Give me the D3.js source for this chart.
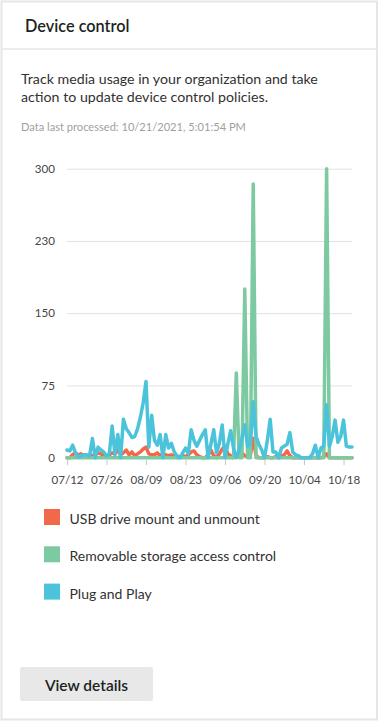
<!DOCTYPE html>
<html><head><meta charset="utf-8">
<script src="https://cdn.jsdelivr.net/npm/d3@7"></script>
<style>
html,body{margin:0;padding:0;background:#fff;}
svg{display:block;font-family:"Segoe UI",Lato,"Noto Sans",sans-serif;}
</style></head>
<body>
<svg id="c" width="380" height="723"></svg>
<script>
// ---- data ----
const startDate = "2021-07-12";
const seriesNames = ["USB drive mount and unmount","Removable storage access control","Plug and Play"];
const seriesColors = ["#f1684a","#7dc9a2","#4bc3da"];
const usbValues = [0,0,3,5,3,4,2,1,3,2,3,5,4,2,1,3,5,4,8,3,5,8,3,6,2,4,6,9,11,4,3,3,5,2,4,3,2,3,1,0,1,2,1,3,6,7,3,1,0,0,3,8,2,0,4,9,12,4,2,0,1,4,5,2,1,3,20,2,0,0,0,1,0,0,1,0,2,3,7,2,0,0,0,0,0,0,0,0,0,0,0,1,4,0,0,0,0,0,0,0,0,0];
const removableValues = [0,0,0,0,0,0,0,0,0,0,0,0,0,0,0,0,0,0,0,0,0,0,0,0,0,0,0,0,0,0,0,0,0,0,0,0,0,0,0,0,0,0,0,0,0,0,0,0,0,0,0,0,0,0,0,0,0,0,0,0,88,0,0,175,0,0,284,0,0,0,0,0,0,0,0,0,0,0,0,0,0,0,0,0,0,0,0,0,0,0,0,0,300,0,0,0,0,0,0,0,0,0];
const pnpValues = [8,7,13,5,1,2,3,3,2,20,0,11,8,6,2,4,33,3,24,0,40,30,26,21,22,30,42,57,79,11,44,18,13,24,0,24,10,15,6,2,0,5,10,4,29,18,12,18,24,29,0,14,29,5,15,34,0,14,28,10,0,8,20,34,12,14,58,22,14,8,0,18,40,6,6,0,10,12,14,26,6,3,2,0,0,0,0,4,13,0,10,12,55,12,22,39,16,22,39,12,11,11];
const xTickLabels = ["07/12","07/26","08/09","08/23","09/06","09/20","10/04","10/18"];
const yTickValues = [0,75,150,225,300];
const yTickLabels = ["0","75","150","230","300"];

const svg = d3.select("#c");
const parse = d3.timeParse("%Y-%m-%d");
const d0 = parse(startDate);
const dates = usbValues.map((_, i) => d3.timeDay.offset(d0, i));

// card
svg.append("rect").attr("x",1.5).attr("y",1.5).attr("width",375.5).attr("height",718)
  .attr("fill","#fff").attr("stroke","#e6e6e6").attr("stroke-width",2);
svg.append("line").attr("x1",2).attr("x2",377).attr("y1",49).attr("y2",49)
  .attr("stroke","#ececec").attr("stroke-width",2);

svg.append("text").attr("x",25).attr("y",31.5).attr("font-size",16.3).attr("font-weight",600)
  .attr("fill","#201f1e").text("Device control");
svg.append("text").attr("x",21).attr("y",84).attr("font-size",14.2).attr("fill","#323130")
  .text("Track media usage in your organization and take");
svg.append("text").attr("x",21).attr("y",101.5).attr("font-size",14.2).attr("fill","#323130")
  .text("action to update device control policies.");
svg.append("text").attr("x",21).attr("y",131).attr("font-size",11.1).attr("fill","#a19f9d")
  .text("Data last processed: 10/21/2021, 5:01:54 PM");

// scales
const x = d3.scaleTime().domain([dates[0], dates[dates.length-1]]).range([67, 352]);
const y = d3.scaleLinear().domain([0, 300]).range([457.7, 168.7]);

// y grid + labels
const yAxis = d3.axisLeft(y).tickValues(yTickValues).tickSize(-285)
  .tickFormat((d,i) => yTickLabels[i]).tickPadding(12);
const gy = svg.append("g").attr("transform","translate(67,0)").call(yAxis);
gy.select(".domain").remove();
gy.selectAll(".tick line").attr("stroke","#e1e1e1").attr("stroke-width",1);
gy.selectAll(".tick text").attr("font-size",11.6).attr("fill","#484644")
  .attr("font-family","Segoe UI, Lato, sans-serif");

// x axis
const xTickDates = xTickLabels.map(s => parse("2021-" + s.replace("/","-")));
const xAxis = d3.axisBottom(x).tickValues(xTickDates).tickSize(5).tickPadding(11)
  .tickFormat((d,i) => xTickLabels[i]);
const gx = svg.append("g").attr("transform","translate(0,460)").call(xAxis);
gx.select(".domain").remove();
gx.selectAll(".tick line").attr("stroke","#c8c6c4");
gx.selectAll(".tick text").attr("font-size",11.6).attr("fill","#484644")
  .attr("font-family","Segoe UI, Lato, sans-serif");

// lines
const line = d3.line().x((d,i) => x(dates[i])).y(d => y(d));
const drawOrder = [[usbValues,0],[removableValues,1],[pnpValues,2]];
drawOrder.forEach(([vals, ci]) => {
  svg.append("path").datum(vals).attr("d", line).attr("fill","none")
    .attr("stroke", seriesColors[ci]).attr("stroke-width",3.5)
    .attr("stroke-linejoin","round").attr("stroke-linecap","round");
});

// legend
const lg = svg.append("g").attr("transform","translate(44,509)");
seriesNames.forEach((n,i) => {
  const row = lg.append("g").attr("transform",`translate(0,${i*37.3})`);
  row.append("rect").attr("width",16).attr("height",16).attr("fill",seriesColors[i]);
  row.append("text").attr("x",25.5).attr("y",15).attr("font-size",14).attr("fill","#323130").text(n);
});

// button
svg.append("rect").attr("x",20).attr("y",667).attr("width",133).attr("height",34).attr("rx",2)
  .attr("fill","#e8e8e8");
svg.append("text").attr("x",86.5).attr("y",691).attr("text-anchor","middle").attr("font-size",15.5)
  .attr("font-weight",600).attr("fill","#201f1e").text("View details");
</script>
</body></html>
